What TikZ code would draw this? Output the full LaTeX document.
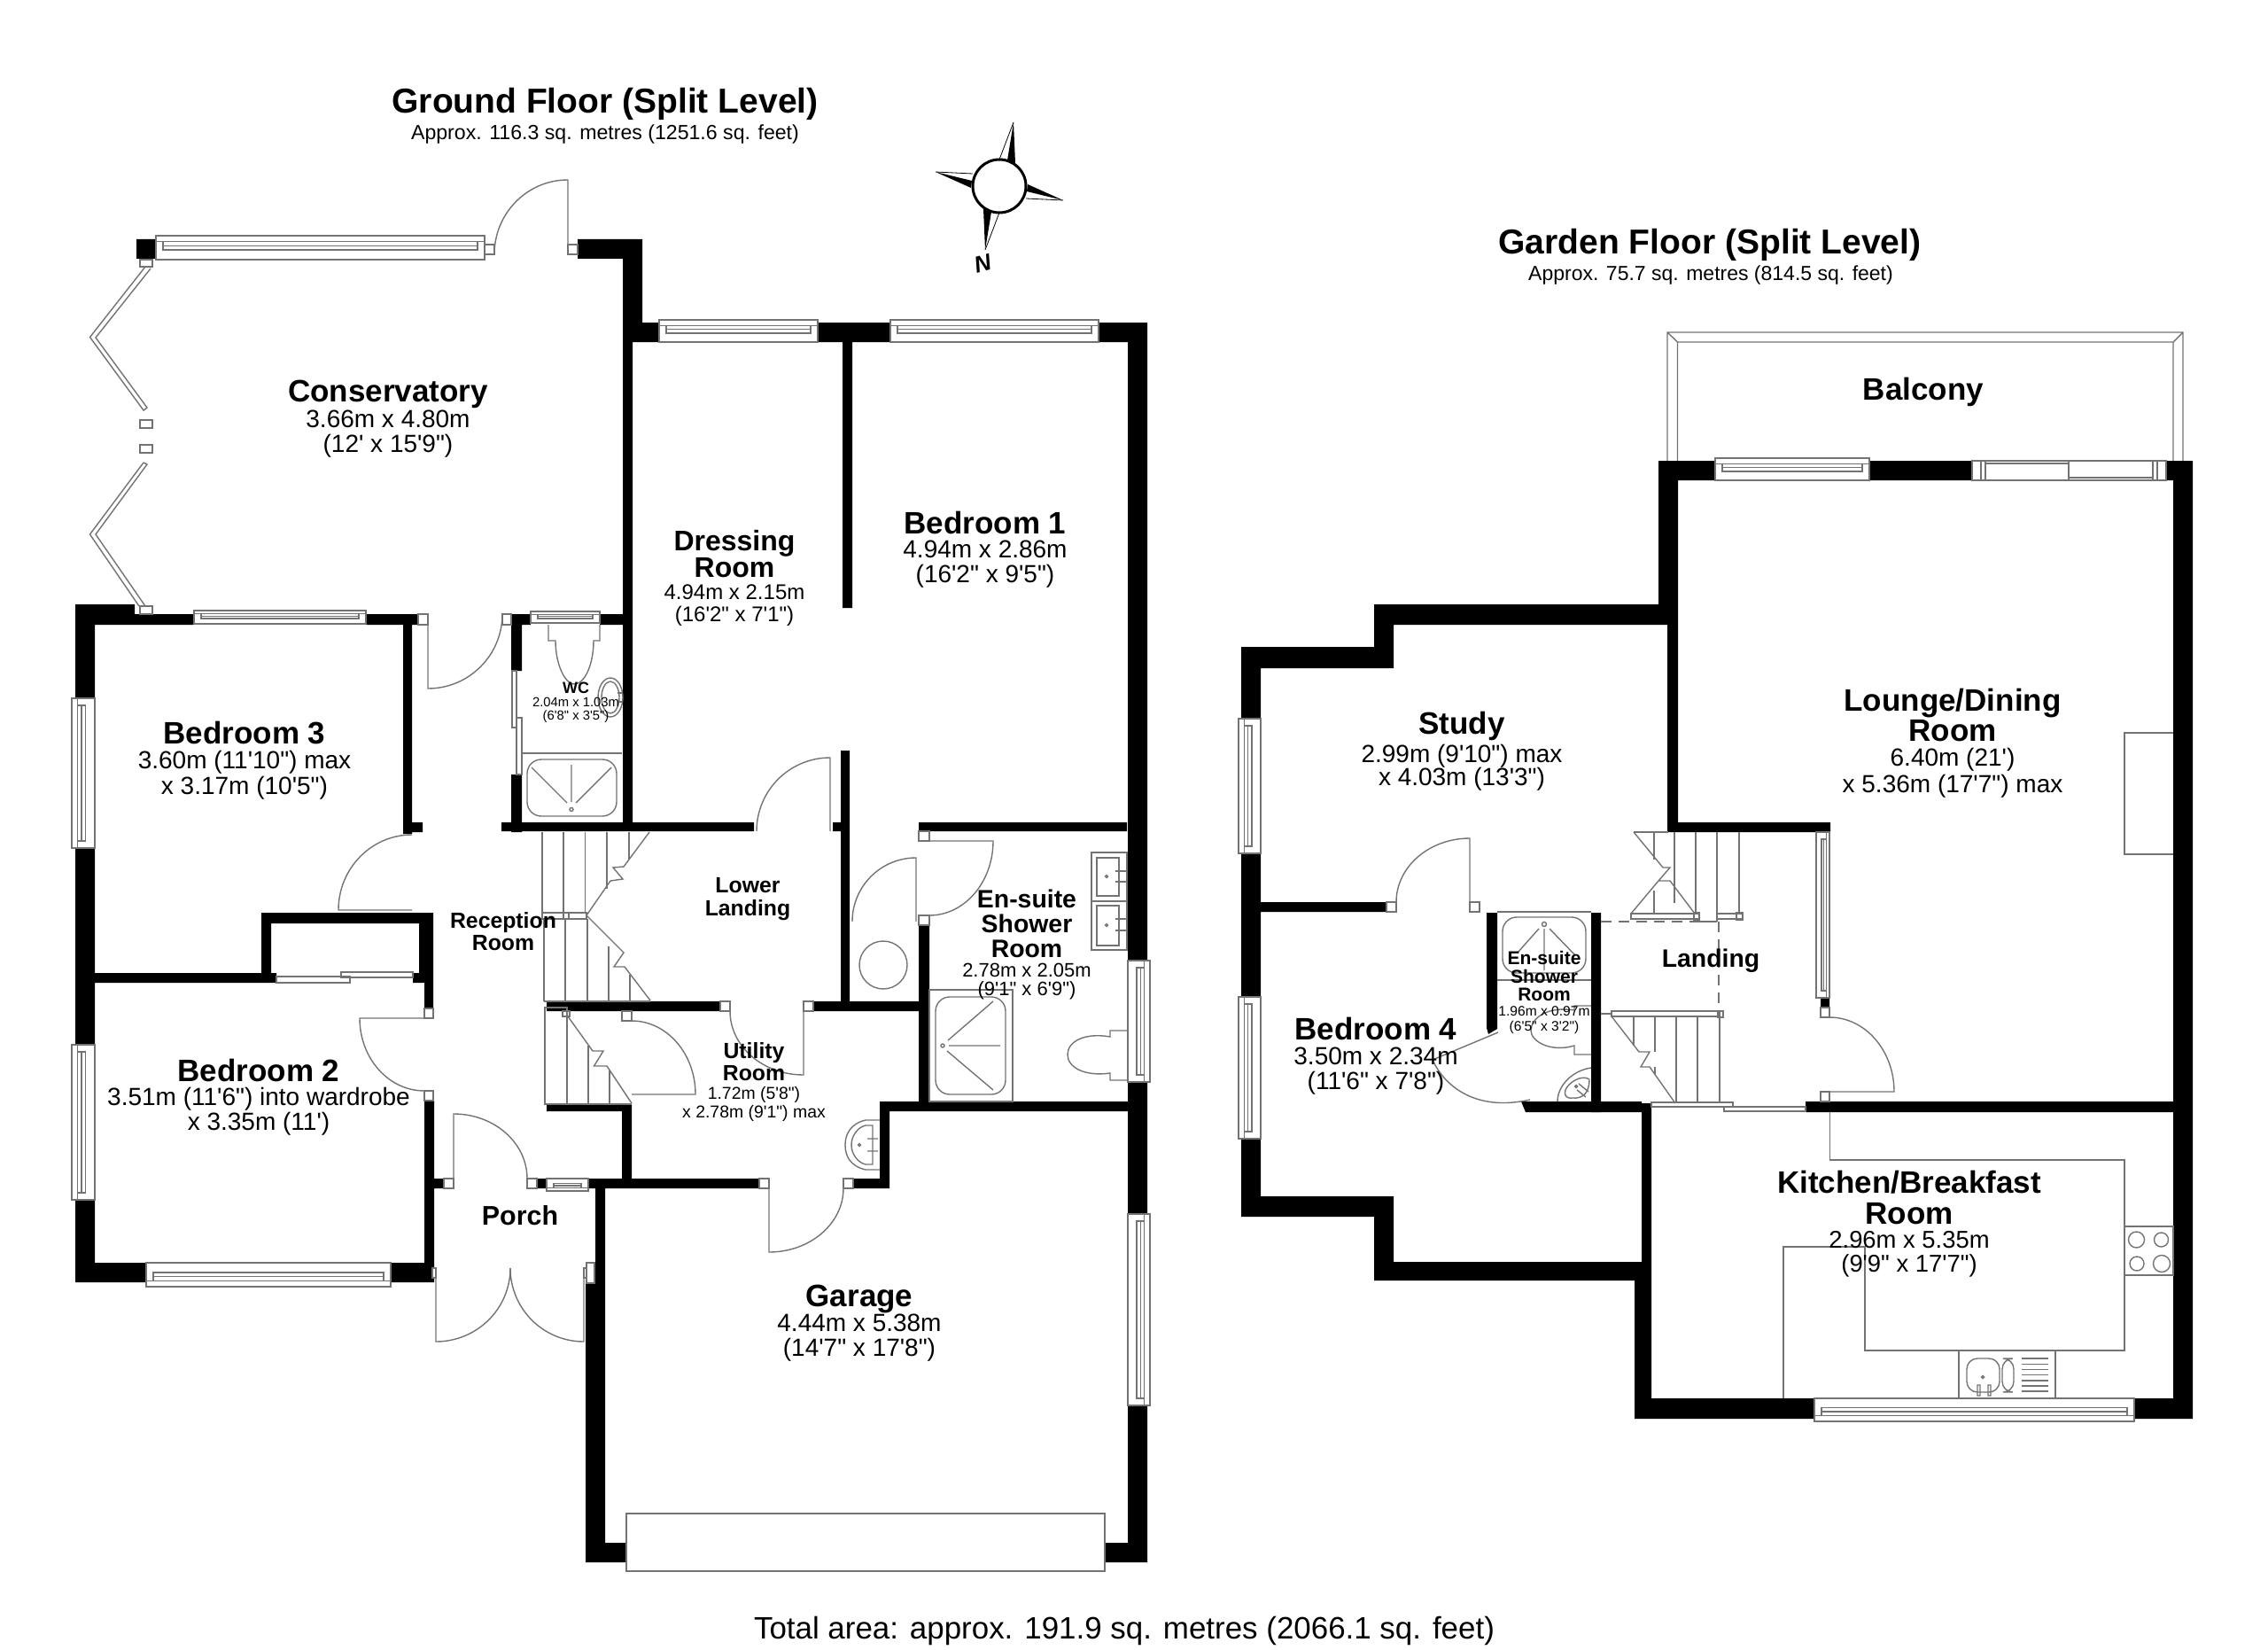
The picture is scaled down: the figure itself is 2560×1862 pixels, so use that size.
\documentclass[tikz,border=0pt]{standalone}
\usepackage{fontspec}
\usepackage{tikz}
\newfontfamily\planfont{Liberation Sans}

\newcommand{\nm}[2][8.75]{{\fontsize{#1}{#1}\bfseries\selectfont #2}}
\newcommand{\winh}[4]{
	\draw[fix,fill=white] (#1,#3) rectangle (#2,#4);
	\draw[fix] (#1,{#3+.25*(#4-#3)}) -- (#2,{#3+.25*(#4-#3)});
	\draw[fix] ({#1+8},{#3+.25*(#4-#3)}) rectangle ({#2-8},{#3+.6*(#4-#3)});
	\draw[fix] ({#1+8},{#3+.42*(#4-#3)}) -- ({#2-8},{#3+.42*(#4-#3)});
}
\newcommand{\winv}[4]{
	\draw[fix,fill=white] (#3,#1) rectangle (#4,#2);
	\draw[fix] ({#3+.25*(#4-#3)},#1) -- ({#3+.25*(#4-#3)},#2);
	\draw[fix] ({#3+.25*(#4-#3)},{#1+8}) rectangle ({#3+.6*(#4-#3)},{#2-8});
	\draw[fix] ({#3+.42*(#4-#3)},{#1+8}) -- ({#3+.42*(#4-#3)},{#2-8});
}
\newcommand{\doorleaf}[6]{
	\draw[fix] (#1,#2) -- (#3,#4) .. controls ({#3+.5523*(#5-#1)},{#4+.5523*(#6-#2)}) and ({#5+.5523*(#3-#1)},{#6+.5523*(#4-#2)}) .. (#5,#6);
}
\tikzset{
	wall/.style={fill=black},
	fix/.style={draw=black!55,line width=.35pt},
	dimtext/.style 2 args={font=\planfont\fontsize{#1}{#2}\selectfont,align=center,inner sep=0pt}
}

\begin{document}
\begin{tikzpicture}[x=.25pt,y=-.25pt]
	\useasboundingbox (0,0) rectangle (2560,1862);
	
	\fill[wall] (154,270) rectangle (176,292) (652,270) rectangle (725,292) (703,270) rectangle (725,386)
	(703,364) rectangle (744,386) (703,386) rectangle (714,938)
	(923,364) rectangle (1005,386) (1240,364) rectangle (1295,386)
	(951,386) rectangle (962,686) (949,847) rectangle (959,1141) (940,928) rectangle (949,938)
	(1273,364) rectangle (1295,1084) (1273,1221) rectangle (1295,1370) (1273,1586) rectangle (1295,1763)
	(1247,1741) rectangle (1295,1763) (661,1741) rectangle (707,1763) (661,1448) rectangle (683,1763) (672,1330) rectangle (683,1448)
	(85,682) rectangle (152,705) (85,693) rectangle (219,705) (413,693) rectangle (472,705)
	(455,693) rectangle (465,941) (455,928) rectangle (477,939)
	(85,682) rectangle (107,788) (85,957) rectangle (107,1179) (85,1354) rectangle (107,1447)
	(85,1425) rectangle (165,1447) (441,1425) rectangle (490,1447) (479,1242) rectangle (490,1447)
	(479,1330) rectangle (501,1341) (606,1330) rectangle (617,1341) (664,1330) rectangle (858,1341)
	(577,693) rectangle (599,705) (677,693) rectangle (714,705) (577,693) rectangle (589,757) (577,874) rectangle (589,939)
	(566,928) rectangle (851,938) (617,1130) rectangle (813,1141) (918,1130) rectangle (1037,1141)
	(617,1246) rectangle (713,1254) (702,1246) rectangle (713,1341)
	(1037,1044) rectangle (1049,1243) (1037,928) rectangle (1272,938)
	(993,1243) rectangle (1273,1254) (993,1243) rectangle (1004,1341) (962,1330) rectangle (1004,1341)
	(295,1030) rectangle (489,1042) (295,1030) rectangle (306,1109) (473,1030) rectangle (489,1098)
	(107,1098) rectangle (312,1109) (466,1098) rectangle (489,1109) (479,1098) rectangle (489,1138);
	
	\fill[wall] (1872,520) rectangle (1936,542) (2110,520) rectangle (2226,542) (2445,520) rectangle (2475,542)
	(1872,520) rectangle (1894,705) (1882,683) rectangle (1894,939) (1883,928) rectangle (2066,939)
	(2453,520) rectangle (2475,1600) (1551,682) rectangle (1894,705) (1551,682) rectangle (1573,754)
	(1401,730) rectangle (1573,754) (1401,730) rectangle (1423,811) (1401,963) rectangle (1423,1125) (1401,1285) rectangle (1423,1373)
	(1401,1350) rectangle (1573,1373) (1551,1350) rectangle (1573,1445) (1551,1424) rectangle (1864,1445)
	(1853,1245) rectangle (1864,1445) (1845,1424) rectangle (1864,1601) (1845,1578) rectangle (2048,1601) (2409,1578) rectangle (2475,1601)
	(1423,1018) rectangle (1565,1029) (1796,1030) rectangle (1807,1255) (1853,1243) rectangle (1807,1255)
	(2038,1243) rectangle (2475,1255) (2055,1126) rectangle (2065,1137);
	\fill[wall] (1678,1030) -- (1690,1030) -- (1690,1161) -- (1680,1167) -- (1678,1160) -- cycle;
	\fill[wall] (1717,1243) -- (1807,1243) -- (1807,1255) -- (1722,1255) -- cycle;
	
	\winh{176}{547}{266}{293}
	\winh{744}{923}{361}{386}
	\winh{1005}{1240}{361}{386}
	\winh{219}{413}{689}{704}
	\winh{599}{677}{690}{703}
	\winh{617}{664}{1344}{1330}
	\winh{165}{441}{1452}{1425}
	\winv{788}{957}{81}{107}
	\winv{1179}{1354}{81}{107}
	\winv{1084}{1221}{1298}{1273}
	\winv{1370}{1586}{1298}{1273}
	\winh{1936}{2110}{517}{542}
	\winh{2048}{2409}{1604}{1578}
	\winv{811}{963}{1398}{1423}
	\winv{1125}{1285}{1398}{1423}
	\winv{939}{1126}{2065}{2050}
	
	\draw[fix,fill=white] (2226,520) rectangle (2445,542);
	\draw[fix] (2236,520) -- (2236,542) (2241,520) -- (2241,542) (2335,520) -- (2335,542) (2430,520) -- (2430,542) (2435,520) -- (2435,542);
	\draw[fix] (2241,523) -- (2335,523) (2335,539) -- (2430,539);
	
	\draw[fix] (158,293) rectangle (172,301) (158,474) rectangle (172,483) (158,502) rectangle (172,511) (158,684) rectangle (172,693);
	\draw[fix] (164,301) -- (101.5,380.5) -- (162,463) -- (166,460) -- (108,381) -- (170,303);
	\draw[fix] (162,522) -- (101.5,603) -- (157,684) (164,684) -- (108,603) -- (166,524) -- (162,522);
	
	\draw[fix,fill=white] (547,276) rectangle (558,287) (641,276) rectangle (652,287);
	\draw[fix,fill=white] (472,693) rectangle (483,705) (567,693) rectangle (577,705);
	\draw[fix,fill=white] (813,1130) rectangle (824,1141) (907,1130) rectangle (918,1141);
	\draw[fix,fill=white] (702,1141) rectangle (713,1152) (857,1330) rectangle (868,1341) (952,1330) rectangle (963,1341);
	\draw[fix,fill=white] (1037,938) rectangle (1049,949) (1037,1033) rectangle (1049,1044);
	\draw[fix,fill=white] (479,1138) rectangle (489,1149) (479,1231) rectangle (489,1242);
	\draw[fix,fill=white] (501,1330) rectangle (512,1341) (595,1330) rectangle (606,1341);
	\draw[fix,fill=white] (488,1431) rectangle (492,1442) (659,1431) rectangle (662,1442) (662,1425) rectangle (671,1448);
	\draw[fix,fill=white] (1565,1018) rectangle (1576,1029) (1659,1018) rectangle (1670,1029);
	\draw[fix,fill=white] (2055,1137) rectangle (2065,1148) (2055,1232) rectangle (2065,1243);
	
	\doorleaf{641}{287}{641}{203}{558}{287}
	\doorleaf{483}{693}{483}{777}{567}{693}
	\doorleaf{465}{1027}{382}{1027}{465}{942}
	\doorleaf{479}{1149}{406}{1149}{479}{1231}
	\doorleaf{512}{1330}{512}{1257}{595}{1330}
	\doorleaf{492}{1431}{492}{1514}{576}{1431}
	\doorleaf{659}{1431}{659}{1514}{576}{1431}
	\doorleaf{937}{938}{937}{855}{854}{938}
	\doorleaf{907}{1141}{907}{1213}{824}{1141}
	\doorleaf{1049}{949}{1121}{949}{1049}{1033}
	\doorleaf{1034}{1040}{1034}{968}{962}{1040}
	\doorleaf{713}{1235}{785}{1235}{713}{1152}
	\doorleaf{868}{1341}{868}{1413}{952}{1341}
	\doorleaf{1659}{1018}{1659}{946}{1576}{1018}
	\doorleaf{2065}{1232}{2138}{1232}{2065}{1148}
	\draw[fix] (1691,1165) -- (1617,1196) .. controls (1630,1225) and (1665,1255) .. (1727,1241);
	
	\draw[fix] (578,757) rectangle (583,821) (583,810) rectangle (589,874);
	\draw[fix] (312,1102) rectangle (395,1109) (385,1097) rectangle (466,1103);
	\draw[fix] (1864,1244) rectangle (1956,1249) (1946,1249) rectangle (2038,1254);
	
	\draw[fix] (589,850) -- (702,850);
	\draw[fix,rounded corners=4pt] (595,857) rectangle (696,921);
	\draw[fix] (600,866) -- (640,906) (645,863) -- (645,905) (690,866) -- (650,906);
	\draw[fix] (645,913.5) circle (2);
	\draw[fix] (619,705) -- (619,723) -- (627,723) .. controls (627,750) and (638,772) .. (648,772) .. controls (660,772) and (670,750) .. (670,723) -- (677,723) -- (677,705);
	\draw[fix] (689,787) ellipse (14 and 22) (689,787) ellipse (10 and 18);
	\draw[fix] (697,782) -- (702,782) (697,792) -- (702,792);
	
	\draw[fix] (612,939) -- (612,1030) (636,939) -- (636,1030) (660.5,939) -- (660.5,1030) (685,939) -- (685,1003) (710,939) -- (710,970);
	\draw[fix] (733,939) -- (704,978) -- (692,979) -- (703,992) -- (689,994) -- (662,1033) -- (704,1075) -- (693,1091) -- (705,1091) -- (734,1129);
	\draw[fix] (612,1030) rectangle (662,1037) (636,1030) rectangle (642,1037);
	\draw[fix] (614,1037) -- (614,1130) (638,1037) -- (638,1130) (663,1037) -- (663,1130) (687,1068) -- (687,1130) (711,1100) -- (711,1130) (614,1130) -- (734,1130);
	\draw[fix] (615,1137) rectangle (640,1246);
	\draw[fix] (635,1141) rectangle (643,1147);
	\draw[fix] (664,1180) -- (664,1246) (688,1208) -- (688,1246) (640,1246) -- (713,1246);
	\draw[fix] (641,1147) -- (669,1186) -- (681,1186) -- (670.5,1203) -- (685,1203) -- (713,1245);
	
	\draw[fix] (1232,962) rectangle (1272,1017) (1232,1017) rectangle (1272,1072);
	\draw[fix] (1238,968) rectangle (1263,1011) (1238,1022) rectangle (1263,1067);
	\draw[fix] (1249,989) circle (1.5) (1249,1044) circle (1.5);
	\draw[fix] (1259,983) -- (1271,983) (1259,995) -- (1271,995) (1259,1037) -- (1271,1037) (1259,1050) -- (1271,1050);
	\draw[fix] (997,1089) circle (27);
	\draw[fix] (1049,1117) rectangle (1143,1243);
	\draw[fix,rounded corners=4pt] (1056,1125) rectangle (1135,1235);
	\draw[fix] (1070,1174) -- (1121,1130) (1071,1180) -- (1129,1180) (1069,1186) -- (1121,1230);
	\draw[fix] (1064,1180) circle (2);
	\draw[fix] (1272,1163) -- (1253,1163) -- (1253,1170) .. controls (1225,1165) and (1205,1175) .. (1205,1190) .. controls (1205,1205) and (1225,1215) .. (1253,1211) -- (1253,1219) -- (1272,1219);
	\draw[fix] (993,1264) -- (977,1264) .. controls (960,1268) and (954,1280) .. (954,1292) .. controls (954,1305) and (960,1316) .. (977,1320) -- (993,1320);
	\draw[fix] (985,1270) -- (977,1270) .. controls (968,1272) and (961,1282) .. (961,1292) .. controls (961,1302) and (968,1312) .. (977,1314) -- (985,1314) -- cycle;
	\draw[fix] (979,1285) -- (991,1285) (979,1299) -- (991,1299) (970,1292) circle (1.5);
	\draw[fix] (707,1708) rectangle (1247,1773);
	
	\draw[fix] (1882,520) -- (1882,375) -- (2464,375) -- (2464,520) (1893.5,520) -- (1893.5,386) -- (2453,386) -- (2453,520) (1882,375) -- (1893.5,386) (2464,375) -- (2453,386);
	\draw[fix] (2453,827) -- (2398,827) -- (2398,964) -- (2453,964);
	
	\draw[fix] (1844,939) -- (1883,939) (1867,939) -- (1867,970) (1867,1005) -- (1867,1031) (1890,939) -- (1890,1019) (1914,939) -- (1914,1031) (1938,939) -- (1938,1040) (1963,939) -- (1963,1031);
	\draw[fix] (1844,939) -- (1877,979) -- (1885,979) -- (1872,994) -- (1885,994) -- (1913,1031) (1841,1031) -- (1872,994);
	\draw[fix] (1841,1031) rectangle (1918,1037) (1938,1031) rectangle (1967,1037) (1912,1030) rectangle (1918,1038) (1960,1030) rectangle (1967,1038) (1914,1040) -- (1938,1040);
	\draw[fix,densely dashed] (1807,1040) -- (1914,1040) (1940,1040) -- (1940,1144) (1807,1144) -- (1819,1144);
	\draw[fix] (1819,1141) rectangle (1941,1147) (1939,1141) rectangle (1945,1148);
	\draw[fix] (1844,1147) -- (1844,1180) (1868,1147) -- (1868,1187) (1868,1204) -- (1868,1213) (1892,1147) -- (1892,1245) (1916,1147) -- (1916,1245) (1941,1147) -- (1941,1245);
	\draw[fix] (1819,1147) -- (1850,1187) -- (1862,1187) -- (1852,1204) -- (1862,1204) -- (1891,1245);
	\draw[fix] (1864,1244) -- (1956,1244);
	
	\draw[fix] (1690,1029) -- (1796,1029) (1690,1106) -- (1796,1106);
	\draw[fix,rounded corners=4pt] (1696,1035) rectangle (1790,1098);
	\draw[fix] (1743,1043) circle (2.5);
	\draw[fix] (1737,1048) -- (1713,1075) (1743,1048) -- (1743,1095) (1749,1048) -- (1777,1077);
	\draw[fix] (1796,1135) -- (1777,1135) -- (1777,1140) .. controls (1745,1135) and (1728,1150) .. (1728,1163) .. controls (1728,1175) and (1750,1188) .. (1777,1180) -- (1777,1190) -- (1796,1190);
	\draw[fix] (1796,1205) .. controls (1775,1208) and (1758,1225) .. (1758,1243);
	\draw[fix] (1794,1218) .. controls (1794,1235) and (1785,1240) .. (1775,1239) .. controls (1768,1240) and (1765,1236) .. (1767,1230) .. controls (1770,1222) and (1785,1212) .. (1794,1218);
	\draw[fix] (1782,1223) -- (1793,1232) (1780,1230) -- (1790,1238) (1779,1226) circle (1.5);
	
	\draw[fix] (2065.5,1255) -- (2065.5,1309) -- (2398,1309) -- (2398,1524) -- (2105,1524) -- (2105,1407) -- (2013,1407) -- (2013,1578);
	\draw[fix] (2398,1384) rectangle (2453,1439);
	\draw[fix] (2411.5,1399) circle (9) (2439.5,1399) circle (8) (2412,1426) circle (8) (2440,1426) circle (9.5);
	\draw[fix] (2211,1524) rectangle (2320,1578);
	\draw[fix,rounded corners=3pt] (2220,1533) rectangle (2257,1571) (2260,1533) rectangle (2273,1571);
	\draw[fix] (2238,1554) circle (1.5) (2232,1563) rectangle (2235,1575) (2244,1563) rectangle (2247,1575);
	\foreach \yy in {1533,1539.2,1545.4,1551.6,1557.8,1564,1570}
		\draw[fix] (2282,\yy) -- (2312,\yy);
	
	\fill[white] (1128,210) circle (30);
	\fill[black] (1144,138) -- (1146,184) -- (1137,181) -- cycle (1112,282) -- (1110,236) -- (1119,239) -- cycle;
	\fill[black] (1200,226) -- (1160,208) -- (1159,216) -- cycle (1056,194) -- (1096,212) -- (1097,204) -- cycle;
	\draw[line width=.2pt] (1144,138) -- (1128,180) (1112,282) -- (1128,240) (1200,226) -- (1158,224) (1056,194) -- (1098,196);
	\node[draw,circle,fill=white,line width=.75pt,minimum size=15pt,inner sep=0pt] (compass) at (1128,210) {};
	\node[dimtext={6.5}{6.5},rotate=15] (north) at (1109,297) {\bfseries\itshape N};
	
	\node[dimtext={9.75}{9.75}] (groundtitle) at (683,117) {\bfseries Ground Floor (Split Level)};
	\node[dimtext={5.78}{6}] (groundarea) at (683,152) {Approx. 116.3 sq. metres (1251.6 sq. feet)};
	\node[dimtext={9.75}{9.75}] (gardentitle) at (1930,276) {\bfseries Garden Floor (Split Level)};
	\node[dimtext={5.75}{6}] (gardenarea) at (1931,311) {Approx. 75.7 sq. metres (814.5 sq. feet)};
	\node[dimtext={8.73}{9}] (totalarea) at (1269,1840) {Total area: approx. 191.9 sq. metres (2066.1 sq. feet)};
	
	\node[dimtext={7}{7.1}] (conservatory) at (438,473) {\nm{Conservatory}\\3.66m x 4.80m\\(12' x 15'9")};
	\node[dimtext={6}{6.2}] (dressing) at (829,652) {\nm[8]{Dressing}\\[-.6pt]\nm[8]{Room}\\4.94m x 2.15m\\(16'2" x 7'1")};
	\node[dimtext={7}{6.9}] (bedone) at (1112,620) {\nm{Bedroom 1}\\4.94m x 2.86m\\(16'2" x 9'5")};
	\node[dimtext={3.7}{3.8}] (wc) at (650,793) {\nm[4.5]{WC}\\2.04m x 1.03m\\(6'8" x 3'5")};
	\node[dimtext={7}{7.1}] (bedthree) at (276,858) {\nm{Bedroom 3}\\3.60m (11'10") max\\x 3.17m (10'5")};
	\node[dimtext={6.2}{6.4}] (reception) at (568,1051) {\nm[6.2]{Reception}\\\nm[6.2]{Room}};
	\node[dimtext={6.2}{6.5}] (lower) at (844,1015) {\nm[6.2]{Lower}\\\nm[6.2]{Landing}};
	\node[dimtext={4.85}{5.2}] (utility) at (851,1221) {\nm[6.2]{Utility}\\[-.4pt]\nm[6.2]{Room}\\1.72m (5'8")\\x 2.78m (9'1") max};
	\node[dimtext={5.5}{5.4}] (ensuite) at (1159,1066) {\nm[7.1]{En-suite}\\[1.6pt]\nm[7.1]{Shower}\\[1.6pt]\nm[7.1]{Room}\\2.78m x 2.05m\\(9'1" x 6'9")};
	\node[dimtext={7}{6.9}] (bedtwo) at (292,1238) {\nm{Bedroom 2}\\3.51m (11'6") into wardrobe\\x 3.35m (11')};
	\node[dimtext={7.6}{7.6}] (porch) at (587,1372) {\bfseries Porch};
	\node[dimtext={7}{7}] (garage) at (970,1493) {\nm{Garage}\\4.44m x 5.38m\\(14'7" x 17'8")};
	\node[dimtext={8.75}{8.75}] (balcony) at (2171,442) {\bfseries Balcony};
	\node[dimtext={7}{6.5}] (lounge) at (2204,839) {\nm{Lounge/Dining}\\[-.5pt]\nm{Room}\\[.5pt]6.40m (21')\\x 5.36m (17'7") max};
	\node[dimtext={7}{6.6}] (study) at (1650,848) {\nm{Study}\\2.99m (9'10") max\\x 4.03m (13'3")};
	\node[dimtext={7.1}{7.1}] (landing) at (1931,1084) {\bfseries Landing};
	\node[dimtext={7}{7}] (bedfour) at (1553,1192) {\nm{Bedroom 4}\\3.50m x 2.34m\\(11'6" x 7'8")};
	\node[dimtext={3.9}{4.2}] (ensuitetwo) at (1743,1120) {\nm[5.25]{En-suite}\\[1pt]\nm[5.25]{Shower}\\[1pt]\nm[5.25]{Room}\\1.96m x 0.97m\\(6'5" x 3'2")};
	\node[dimtext={6.85}{6.8}] (kitchen) at (2155,1381) {\nm[8.75]{Kitchen/Breakfast}\\[2pt]\nm[8.75]{Room}\\2.96m x 5.35m\\(9'9" x 17'7")};
\end{tikzpicture}
\end{document}
